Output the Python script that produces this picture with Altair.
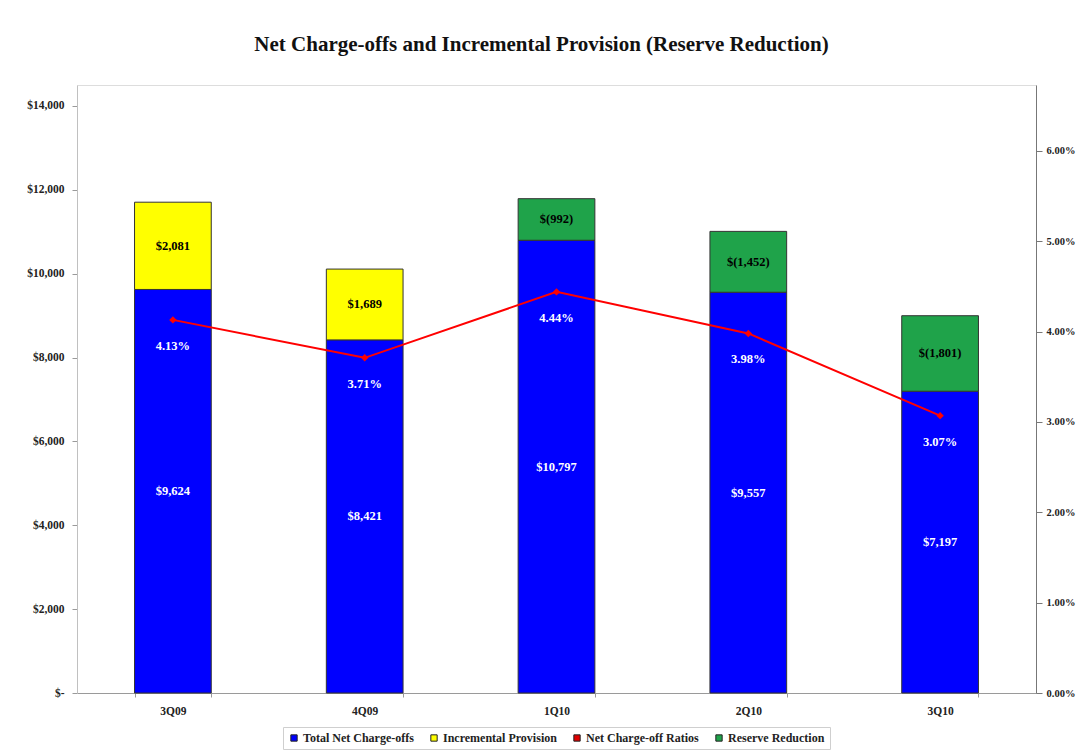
import altair as alt
import pandas as pd

quarters = ["3Q09", "4Q09", "1Q10", "2Q10", "3Q10"]
net_chargeoffs = [9624, 8421, 10797, 9557, 7197]
incremental_provision = [2081, 1689, 0, 0, 0]
reserve_reduction = [0, 0, 992, 1452, 1801]
nco_ratio = [4.13, 3.71, 4.44, 3.98, 3.07]

series_names = ["Total Net Charge-offs", "Incremental Provision", "Net Charge-off Ratios", "Reserve Reduction"]
series_colors = ["#0000FF", "#FFFF00", "#E00000", "#1FA34A"]

rows = []
for i, q in enumerate(quarters):
    base = 0
    for name, vals, order in [("Total Net Charge-offs", net_chargeoffs, 0),
                              ("Incremental Provision", incremental_provision, 1),
                              ("Reserve Reduction", reserve_reduction, 2)]:
        v = vals[i]
        if v == 0:
            continue
        if name == "Reserve Reduction":
            lab = "$(" + format(v, ",") + ")"
        else:
            lab = "$" + format(v, ",")
        rows.append({"quarter": q, "series": name, "value": v, "y0": base, "y1": base + v,
                     "mid": base + v / 2, "label": lab, "order": order,
                     "tcolor": "white" if order == 0 else "black"})
        base += v
bars_df = pd.DataFrame(rows)
line_df = pd.DataFrame({"quarter": quarters, "ratio": nco_ratio,
                        "label": [format(r, ".2f") + "%" for r in nco_ratio]})

FONT = "Liberation Serif"
LFS = 11.5

xenc = alt.X("quarter:N", sort=quarters, title=None,
             scale=alt.Scale(paddingInner=0.6, paddingOuter=0.3),
             axis=alt.Axis(labelAngle=0, tickBand="extent", domainColor="#9a9a9a", tickColor="#9a9a9a",
                           tickSize=4, labelPadding=8, labelFont=FONT, labelFontWeight="bold",
                           labelFontSize=LFS, labelColor="#222"))

yscale = alt.Scale(domain=[0, 14500], nice=False)

bars = alt.Chart(bars_df).mark_bar(stroke="#333333", strokeWidth=1).encode(
    x=xenc,
    y=alt.Y("y0:Q", scale=yscale, title=None,
            axis=alt.Axis(values=list(range(0, 14001, 2000)), grid=False,
                          labelExpr="datum.value == 0 ? '$-' : '$' + format(datum.value, ',')",
                          domainColor="#c0c0c0", tickColor="#9a9a9a", tickSize=5,
                          labelFont=FONT, labelFontWeight="bold", labelFontSize=LFS,
                          labelColor="#222", labelPadding=8)),
    y2="y1:Q",
    color=alt.Color("series:N", scale=alt.Scale(domain=series_names, range=series_colors),
                    legend=alt.Legend(title=None, orient="none", direction="horizontal",
                                      legendX=206, legendY=642, symbolType="square",
                                      symbolSize=40, symbolStrokeColor="#222", symbolStrokeWidth=1,
                                      labelFont=FONT, labelFontWeight="bold", labelFontSize=12,
                                      labelColor="#222", columnPadding=14, symbolOffset=0,
                                      labelOffset=3,
                                      strokeColor="#cfcfcf", padding=5)),
    order=alt.Order("order:Q"),
)

bar_text = alt.Chart(bars_df).mark_text(font=FONT, fontWeight="bold", fontSize=12.5).encode(
    x=alt.X("quarter:N", sort=quarters),
    y=alt.Y("mid:Q", scale=yscale),
    text="label:N",
    color=alt.Color("tcolor:N", scale=None),
)

rscale = alt.Scale(domain=[0, 6.73], nice=False)

line = alt.Chart(line_df).mark_line(color="#FF0000", strokeWidth=2,
                                    point=alt.OverlayMarkDef(shape="diamond", size=55, color="#FF0000",
                                                             filled=True)).encode(
    x=alt.X("quarter:N", sort=quarters),
    y=alt.Y("ratio:Q", scale=rscale, title=None,
            axis=alt.Axis(orient="right", values=[0, 1, 2, 3, 4, 5, 6], grid=False,
                          labelExpr="format(datum.value, '.2f') + '%'",
                          domainColor="#777777", tickColor="#777777", tickSize=6,
                          labelFont=FONT, labelFontWeight="bold", labelFontSize=10.5,
                          labelColor="#222", labelPadding=4)),
)

line_text = alt.Chart(line_df).mark_text(font=FONT, fontWeight="bold", fontSize=12.5, color="white",
                                         dy=26).encode(
    x=alt.X("quarter:N", sort=quarters),
    y=alt.Y("ratio:Q", scale=rscale),
    text="label:N",
)

left = alt.layer(bars, bar_text)
right = alt.layer(line, line_text)

chart = alt.layer(left, right).resolve_scale(y="independent").properties(
    width=959, height=608,
    title=alt.Title("Net Charge-offs and Incremental Provision (Reserve Reduction)",
                    font=FONT, fontSize=21, fontWeight="bold", color="#111", offset=30, dx=-15),
    autosize=alt.AutoSizeParams(type="none"),
    padding={"left": 69, "top": 77, "right": 40, "bottom": 57},
).configure_view(stroke="#d0d0d0").configure(background="white")

chart.save("out.html", embed_options={"renderer": "svg", "actions": False})
